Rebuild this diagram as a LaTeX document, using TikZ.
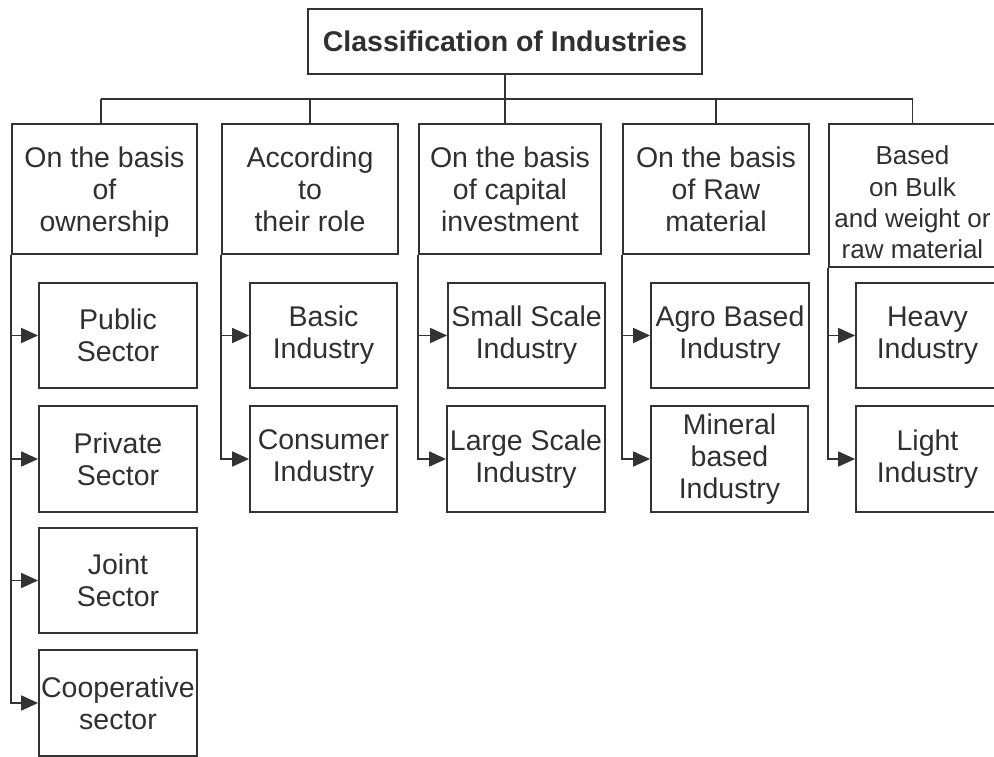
\documentclass[tikz,border=0pt]{standalone}
\usepackage{fontspec}
\setmainfont{Liberation Sans}
\usetikzlibrary{arrows.meta}
\definecolor{ink}{HTML}{333333}
\definecolor{txt}{HTML}{303030}
\tikzset{
  box/.style={draw=ink, line width=1.8pt, rectangle, inner sep=0pt, align=center,
    text=txt, font=\fontsize{28.5}{32}\selectfont},
  conn/.style={draw=ink, line width=1.8pt},
  arr/.style={conn, -{Triangle[length=17pt,width=15pt]}},
}
\begin{document}
\begin{tikzpicture}[x=1pt,y=-1pt]
\useasboundingbox (0,0) rectangle (994,757);
\clip (0,0) rectangle (994,757);
% title
\node[box, minimum width=394pt, minimum height=65pt, font=\fontsize{28.5}{32}\selectfont\bfseries] (title) at (505,41.5) {Classification of Industries};
% categories
\node[box, minimum width=185pt, minimum height=130pt] (c1) at (104.5,189) {On the basis\\of\\\smash{ownership}};
\node[box, minimum width=176pt, minimum height=130pt] (c2) at (310,189) {According\\to\\their role};
\node[box, minimum width=182pt, minimum height=130pt] (c3) at (510,189) {On the basis\\of capital\\investment};
\node[box, minimum width=186pt, minimum height=130pt] (c4) at (716,189) {On the basis\\of Raw\\material};
\node[box, minimum width=167pt, minimum height=143pt, font=\fontsize{26}{31.3}\selectfont] (c5) at (912.5,195.5) {\rule{0pt}{33pt}Based\\on Bulk\\\makebox[150pt]{and weight or}\\raw material};
% sub boxes column 1
\node[box, minimum width=158pt, minimum height=105pt] (s11) at (118,335.5) {Public\\Sector};
\node[box, minimum width=158pt, minimum height=106pt] (s12) at (118,459) {Private\\Sector};
\node[box, minimum width=158pt, minimum height=105pt] (s13) at (118,580.5) {Joint\\Sector};
\node[box, minimum width=158pt, minimum height=106pt] (s14) at (118,703) {Cooperative\\sector};
% column 2
\node[box, minimum width=147pt, minimum height=105pt] (s21) at (323.5,335.5) {Basic\\Industry};
\node[box, minimum width=147pt, minimum height=106pt] (s22) at (323.5,459) {Consumer\\Industry};
% column 3
\node[box, minimum width=157pt, minimum height=105pt] (s31) at (526.5,335.5) {Small Scale\\Industry};
\node[box, minimum width=158pt, minimum height=106pt] (s32) at (526,459) {Large Scale\\Industry};
% column 4
\node[box, minimum width=158pt, minimum height=105pt] (s41) at (730,335.5) {Agro Based\\Industry};
\node[box, minimum width=157pt, minimum height=106pt] (s42) at (729.5,459) {Mineral\\based\\Industry};
% column 5
\node[box, minimum width=143pt, minimum height=105pt] (s51) at (927.5,335.5) {Heavy\\Industry};
\node[box, minimum width=143pt, minimum height=106pt] (s52) at (927.5,459) {Light\\Industry};
% bus
\coordinate (bus) at (505,99);
\draw[conn] (title.south) -- (title.south |- c3.north);
\draw[conn] ([xshift=-3.5pt]c1.north |- bus) -- (c5.north |- bus);
\draw[conn] ([xshift=-3.5pt]c1.north) -- ([xshift=-3.5pt]c1.north |- bus);
\foreach \c in {c2,c4,c5} \draw[conn] (\c.north) -- (\c.north |- bus);
% trunks and arrows
\draw[arr] (c1.south west) |- (s14.west);
\foreach \s in {s11,s12,s13} \draw[arr] (c1.south west |- \s.west) -- (\s.west);
\draw[arr] (c2.south west) |- (s22.west);
\draw[arr] (c2.south west |- s21.west) -- (s21.west);
\draw[arr] (c3.south west) |- (s32.west);
\draw[arr] (c3.south west |- s31.west) -- (s31.west);
\draw[arr] (c4.south west) |- (s42.west);
\draw[arr] (c4.south west |- s41.west) -- (s41.west);
\draw[arr] (c5.south west) |- (s52.west);
\draw[arr] (c5.south west |- s51.west) -- (s51.west);
\end{tikzpicture}
\end{document}
